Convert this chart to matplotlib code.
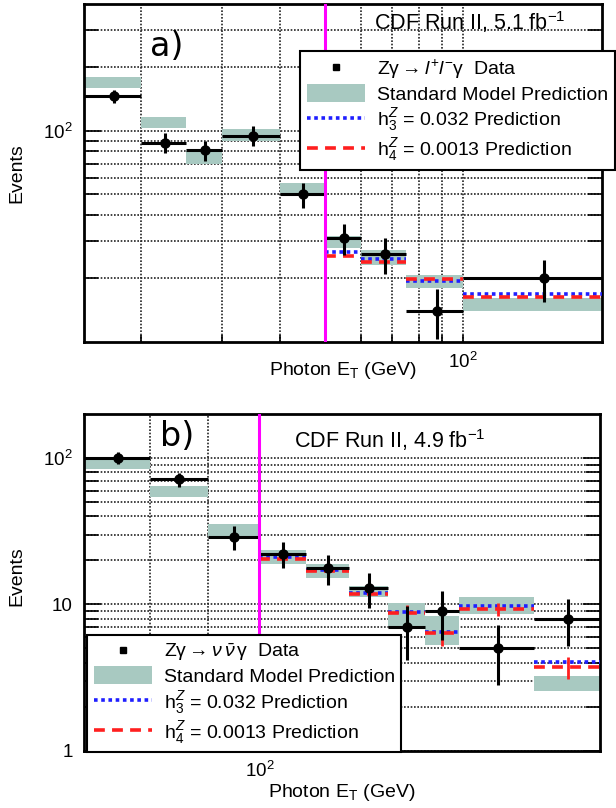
import numpy as np
import matplotlib
matplotlib.use('Agg')
import matplotlib.pyplot as plt
from matplotlib.lines import Line2D
from matplotlib.patches import Patch
from matplotlib.ticker import FixedLocator, FixedFormatter, NullFormatter

plt.rcParams['font.family'] = ['Liberation Sans', 'DejaVu Sans']
plt.rcParams['mathtext.fontset'] = 'custom'
plt.rcParams['mathtext.rm'] = 'Liberation Sans'
plt.rcParams['mathtext.it'] = 'Liberation Sans:italic'
plt.rcParams['mathtext.sf'] = 'Liberation Sans'

# panel a) Z gamma -> l l gamma
edges_a = [15, 20, 25, 30, 40, 50, 60, 75, 100, 200]
data_a = [146, 88, 81, 95, 50, 31, 26, 14, 20]
err_a = [10.5, 9.5, 9, 10, 6.8, 5.3, 5, 3.7, 4.5]
sm_a = [170, 109.5, 75, 96, 53.5, 29.7, 25.2, 19.3, 15]
sm_err_a = [10, 6.5, 5, 6, 3, 2, 2, 1.4, 1.05]
h3_a = [26.5, 24.7, 19.4, 16.9]      # bins above 50 GeV
h4_a = [25.5, 24.0, 19.8, 16.3]

# panel b) Z gamma -> nu nu gamma
edges_b = [70, 80, 90, 100, 110, 120, 130, 140, 150, 175, 200]
data_b = [100, 71.6, 29, 22.1, 17.6, 13.0, 7.0, 9.0, 5.0, 8.0]
err_b = [9.5, 7.8, 5.3, 4.5, 4.0, 3.5, 2.8, 3.3, 2.2, 2.8]
sm_b = [91, 59, 32, 21.3, 17, 12.3, 8.7, 6.8, 9.9, 2.9]
sm_err_b = [7, 5, 3.2, 2.4, 1.9, 1.1, 1.6, 1.5, 1.25, 0.35]
h3_b = [21.2, 17.3, 12.0, 8.9, 6.5, 9.75, 4.06]   # bins above 100 GeV
h4_b = [20.3, 16.8, 11.8, 8.7, 6.4, 9.25, 3.72]
h4_err_b = [0.6, 0.6, 0.5, 1.2, 1.2, 0.9, 0.65]

teal = '#a8c9c1'
blue = '#1f1fff'
red = '#ff1f1f'


def draw_panel(ax, edges, data, err, sm, sm_err, cut, h3, h4, h4_err=None):
    edges = np.array(edges, dtype=float)
    lo, hi = edges[:-1], edges[1:]
    centers = 0.5 * (lo + hi)
    sm = np.array(sm)
    sm_err = np.array(sm_err)
    ax.bar(lo, 2 * sm_err, width=hi - lo, bottom=sm - sm_err, align='edge',
           color=teal, linewidth=0, zorder=2)
    n = len(h3)
    ax.hlines(h3, lo[-n:], hi[-n:], colors=blue, linestyles=(0, (1, 1)),
              linewidth=2.6, zorder=3)
    ax.hlines(h4, lo[-n:], hi[-n:], colors=red, linestyles=(0, (3, 2)),
              linewidth=2.6, zorder=3)
    if h4_err is not None:
        ax.errorbar(centers[-n:], h4, yerr=h4_err, fmt='none', ecolor=red,
                    elinewidth=2, capsize=0, zorder=3)
    ax.errorbar(centers, data, yerr=err, xerr=[centers - lo, hi - centers],
                fmt='o', color='black', ms=6.5, elinewidth=2.2, capsize=0, zorder=4)
    ax.axvline(cut, color='#ff00ff', linewidth=2.2, zorder=5)
    ax.set_xscale('log')
    ax.set_yscale('log')
    ax.set_xlim(edges[0], edges[-1])
    ax.set_axisbelow(True)
    ax.grid(True, which='both', linestyle=(0, (1, 1)), color='#222222', linewidth=1.2)
    ax.tick_params(which='both', direction='in', right=True, labelsize=13.5)
    ax.tick_params(axis='y', which='major', length=12, width=1.2, pad=8)
    ax.tick_params(axis='y', which='minor', length=10, width=1.2)
    ax.tick_params(axis='x', which='both', length=5, width=1.2, pad=7)
    for s in ax.spines.values():
        s.set_linewidth(2)
    ax.xaxis.set_major_locator(FixedLocator([100]))
    ax.xaxis.set_major_formatter(FixedFormatter([r'$\mathregular{10^{2}}$']))
    ax.xaxis.set_minor_formatter(NullFormatter())
    ax.yaxis.set_minor_formatter(NullFormatter())
    ax.set_xlabel(r'Photon E$_\mathregular{T}$ (GeV)', fontsize=14)
    ax.set_ylabel('Events', fontsize=14)


fig = plt.figure(figsize=(6.16, 8.08), dpi=100)
ax_a = fig.add_axes([0.1356, 0.5771, 0.8417, 0.4180])
ax_b = fig.add_axes([0.1364, 0.0709, 0.8377, 0.4167])

draw_panel(ax_a, edges_a, data_a, err_a, sm_a, sm_err_a, 50, h3_a, h4_a)
ax_a.set_ylim(10, 400)
ax_a.xaxis.set_minor_locator(FixedLocator([20, 30, 40, 50, 60, 70, 80, 90]))
ax_a.yaxis.set_major_locator(FixedLocator([100]))
ax_a.yaxis.set_major_formatter(FixedFormatter([r'$\mathregular{10^{2}}$']))
ax_a.yaxis.set_minor_locator(FixedLocator([20, 30, 40, 50, 60, 70, 80, 90, 200, 300]))
ax_a.xaxis.set_label_coords(0.5, -0.055)
ax_a.yaxis.set_label_coords(-0.113, 0.5)

draw_panel(ax_b, edges_b, data_b, err_b, sm_b, sm_err_b, 100, h3_b, h4_b, h4_err_b)
ax_b.set_ylim(1, 200)
ax_b.xaxis.set_minor_locator(FixedLocator([80, 90]))
ax_b.yaxis.set_major_locator(FixedLocator([1, 10, 100]))
ax_b.yaxis.set_major_formatter(FixedFormatter(['1', '10', r'$\mathregular{10^{2}}$']))
ax_b.yaxis.set_minor_locator(FixedLocator([2, 3, 4, 5, 6, 7, 8, 9,
                                           20, 30, 40, 50, 60, 70, 80, 90]))
ax_b.xaxis.set_label_coords(0.5, -0.093)
ax_b.yaxis.set_label_coords(-0.113, 0.52)

ax_a.text(0.161, 0.873, 'a)', transform=ax_a.transAxes, ha='center', va='center',
          fontsize=24, family='DejaVu Sans', zorder=6)
ax_b.text(0.180, 0.932, 'b)', transform=ax_b.transAxes, ha='center', va='center',
          fontsize=24, family='DejaVu Sans', zorder=6)
ax_a.text(0.745, 0.947, r'CDF Run II, 5.1 fb$^{-1}$', transform=ax_a.transAxes,
          ha='center', va='center', fontsize=15.5, zorder=6)
ax_b.text(0.593, 0.923, r'CDF Run II, 4.9 fb$^{-1}$', transform=ax_b.transAxes,
          ha='center', va='center', fontsize=15.5, zorder=6)


def add_legend(ax, first_label, anchor):
    handles = [
        Line2D([], [], marker='s', color='black', linestyle='none', markersize=5),
        Patch(facecolor=teal, edgecolor='none'),
        Line2D([], [], color=blue, linestyle=(0, (1, 1)), linewidth=2.6),
        Line2D([], [], color=red, linestyle=(0, (3, 2)), linewidth=2.6),
    ]
    labels = [first_label, 'Standard Model Prediction',
              r'h$_3^Z$ = 0.032 Prediction', r'h$_4^Z$ = 0.0013 Prediction']
    leg = ax.legend(handles, labels, loc='upper left', bbox_to_anchor=anchor,
                    bbox_transform=fig.transFigure, borderaxespad=0,
                    fontsize=14, handlelength=3.0, handleheight=1.05,
                    handletextpad=0.6, labelspacing=0.15, borderpad=0.35,
                    fancybox=False, framealpha=1, edgecolor='black')
    leg.get_frame().set_linewidth(1.5)
    leg.set_zorder(10)
    return leg


add_legend(ax_a, r'Z$\mathregular{\gamma} \rightarrow l^{+}l^{-}\mathregular{\gamma}$  Data',
           (300 / 616, 1 - 51 / 808))
add_legend(ax_b, r'Z$\mathregular{\gamma} \rightarrow \nu\,\bar{\nu}\,\mathregular{\gamma}$  Data',
           (86.7 / 616, 1 - 635 / 808))

fig.savefig('out.png', dpi=100)
